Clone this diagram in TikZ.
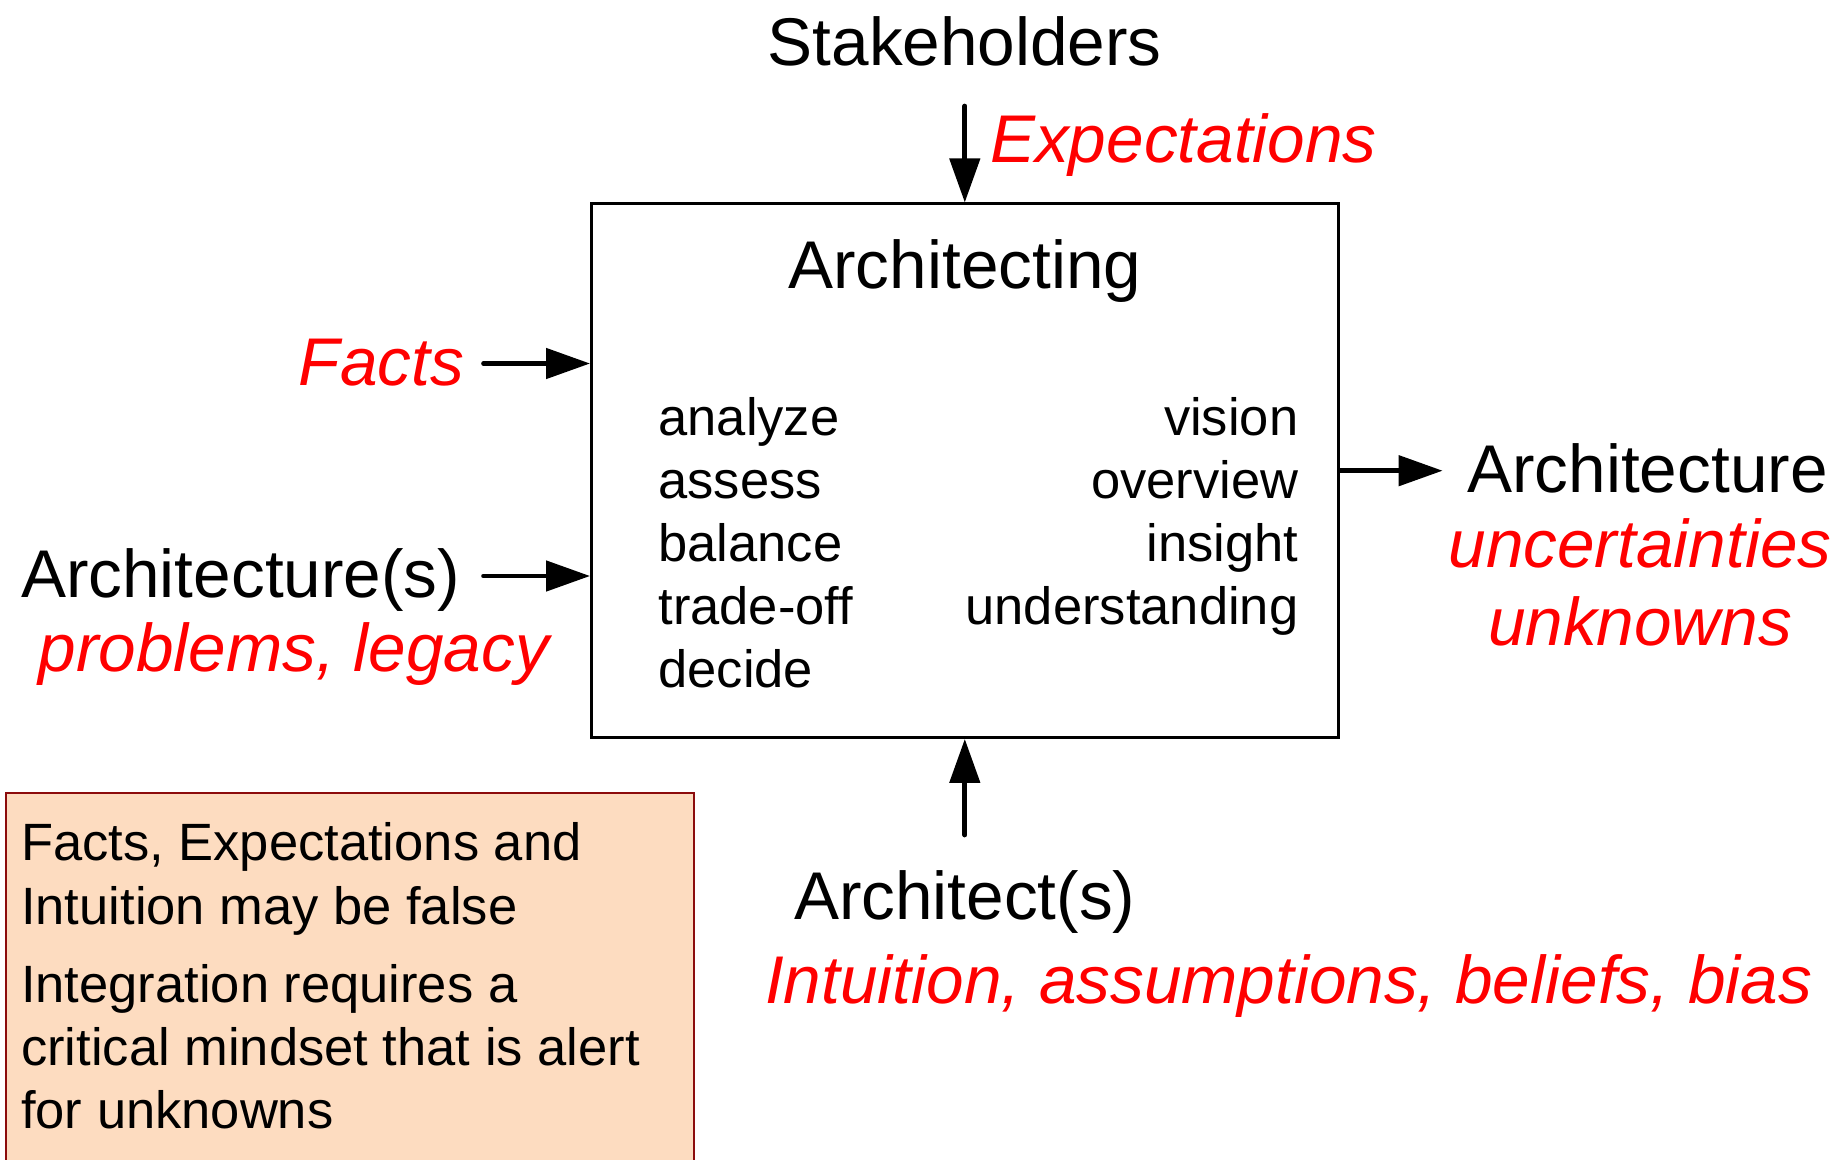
\documentclass[tikz,border=0pt]{standalone}
\usepackage{fontspec}
\setmainfont{Liberation Sans}
\usetikzlibrary{arrows.meta}
\definecolor{notefill}{RGB}{253,220,192}
\definecolor{noteline}{RGB}{140,12,12}
\begin{document}
\begin{tikzpicture}[x=1pt,y=-1pt,
  big/.style={font=\fontsize{67.5}{80}\selectfont, inner sep=0pt},
  redit/.style={font=\fontsize{67.5}{80}\selectfont\itshape, text=red, inner sep=0pt},
  small/.style={font=\fontsize{52.5}{63}\selectfont, inner sep=0pt},
  arr/.style={line width=4.7pt, line cap=round, -{Triangle[length=44pt,width=30pt]}},
  procbox/.style={draw, line width=2.5pt, minimum width=747pt, minimum height=534pt, inner sep=0pt},
  notebox/.style={draw=noteline, fill=notefill, line width=2pt, minimum width=688pt, minimum height=400pt, inner sep=0pt}
]
\useasboundingbox (0,0) rectangle (1836,1159);
\clip (0,0) rectangle (1836,1159);
% main box
\node[procbox] (box) at (964.8,470.7) {};
\node[big, anchor=base] (archg) at (964.8,288.5) {Architecting};
% inner columns
\foreach \w/\yy [count=\i] in {analyze/435, assess/498, balance/561, trade-off/624, decide/687}
  \node[small, anchor=base west] (l\i) at (658.3,\yy) {\w};
\foreach \w/\yy [count=\i] in {vision/435, overview/498, insight/561, understanding/624}
  \node[small, anchor=base east] (r\i) at (1298.5,\yy) {\w};
% top
\node[big, anchor=base] (stake) at (964.8,65.5) {Stakeholders};
\node[redit, anchor=base west] (expect) at (990,162) {Expectations};
\coordinate (sA) at (964.8,106);
\draw[arr] (sA) -- (box.north);
% left
\node[redit, anchor=base east] (facts) at (464,385) {Facts};
\coordinate (fA) at (483.5,363.5);
\draw[arr] (fA) -- (fA -| box.west);
\node[big, anchor=base west] (archs) at (21,597) {Architecture(s)};
\node[redit, anchor=base west] (prob) at (38.6,671) {problems, legacy};
\coordinate (aA) at (483.5,576);
\draw[arr] (aA) -- (aA -| box.west);
% right
\node[big, anchor=base] (arch) at (1647.5,492) {Architecture};
\node[redit, anchor=base] (unc) at (1640,567) {uncertainties};
\node[redit, anchor=base] (unk) at (1640,645) {unknowns};
\coordinate (rA) at (1442.6,470.7);
\draw[arr] (box.east) -- (rA);
% bottom
\coordinate (uA) at (964.8,835);
\draw[arr] (uA) -- (box.south);
\node[big, anchor=base] (archt) at (964.8,919) {Architect(s)};
\node[redit, anchor=base] (intu) at (1288.6,1003.5) {Intuition, assumptions, beliefs, bias};
% note
\node[notebox, anchor=north west] (note) at (4.7,791.5) {};
\node[small, anchor=base west] (n1) at (21,860.6) {Facts, Expectations and};
\node[small, anchor=base west] (n2) at (21,924) {Intuition may be false};
\node[small, anchor=base west] (n3) at (21,1002) {Integration requires a};
\node[small, anchor=base west] (n4) at (21,1065.5) {critical mindset that is alert};
\node[small, anchor=base west] (n5) at (21,1128.7) {for unknowns};
\end{tikzpicture}
\end{document}
